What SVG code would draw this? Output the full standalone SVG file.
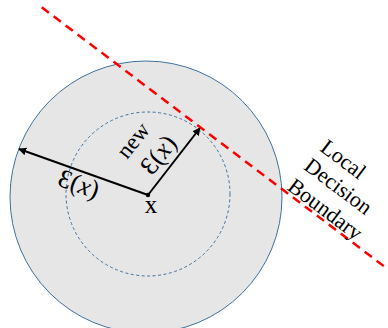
<svg xmlns="http://www.w3.org/2000/svg" width="388" height="328" viewBox="0 0 388 328">
<defs>
<marker id="ah" viewBox="0 0 10 10" refX="9" refY="5" markerWidth="4" markerHeight="4" orient="auto-start-reverse">
<path d="M0,0 L10,5 L0,10 z" fill="#000"/>
</marker>
<style>
.t{font-family:"Liberation Serif","Times New Roman",serif;fill:#000}
.c{stroke:#41719c;stroke-width:1}
</style>
</defs>
<rect width="388" height="328" fill="#fff"/>
<g id="outer-circle"><circle cx="146" cy="197" r="136" fill="#e6e6e6" class="c"/></g>
<g id="inner-circle"><circle cx="148" cy="194" r="82" fill="none" class="c" stroke-dasharray="3,2.5"/></g>
<g id="connectors">
<line x1="148" y1="195" x2="19" y2="149" stroke="#000" stroke-width="2" marker-end="url(#ah)"/>
<line x1="148" y1="195" x2="200" y2="128" stroke="#000" stroke-width="2" marker-end="url(#ah)"/>
<line x1="41.7" y1="7.3" x2="386.7" y2="268.3" stroke="#ff0000" stroke-width="2.5" stroke-dasharray="9,6"/>
</g>
<g id="center"><circle cx="148" cy="195" r="2.2" fill="#000"/>
<text class="t" x="151" y="213" font-size="25" text-anchor="middle">x</text></g>
<g id="eps-label"><text class="t" font-size="26" text-anchor="middle" transform="translate(76,192) rotate(19.6)">Ɛ(<tspan font-style="italic">x</tspan>)</text></g>
<g id="new-eps-label">
<text class="t" font-size="23" text-anchor="middle" transform="translate(139,145) rotate(-51)">new</text>
<text class="t" font-size="26" text-anchor="middle" transform="translate(165,160) rotate(-52)">Ɛ(<tspan font-style="italic">x</tspan>)</text>
</g>
<g id="boundary-label">
<text class="t" font-size="22" text-anchor="middle" transform="translate(339,165) rotate(37)">Local</text>
<text class="t" font-size="22" text-anchor="middle" transform="translate(334,192) rotate(37)">Decision</text>
<text class="t" font-size="22" text-anchor="middle" transform="translate(321,215) rotate(37)">Boundary</text>
</g>
</svg>
